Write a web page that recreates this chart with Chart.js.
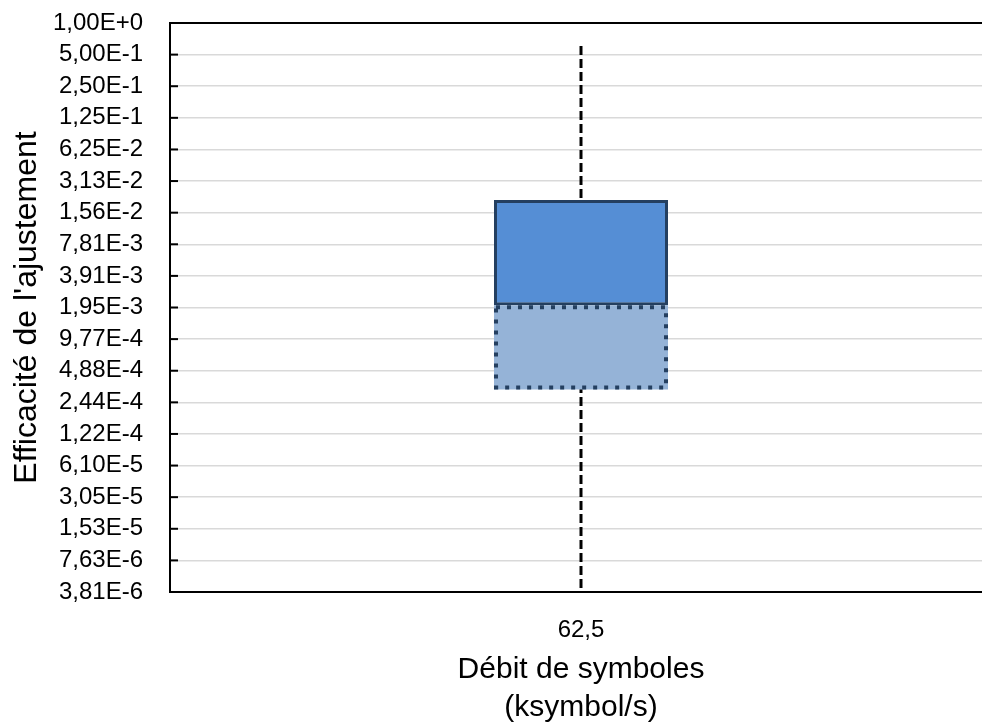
<!DOCTYPE html>
<html lang="fr">
<head>
<meta charset="utf-8">
<title>Efficacité de l'ajustement</title>
<script src="https://cdn.jsdelivr.net/npm/chart.js@4.4.1/dist/chart.umd.min.js"></script>
<style>
    html, body { margin: 0; padding: 0; background: #fff; overflow: hidden; }
    #contenedor { width: 1000px; height: 726px; }
</style>
</head>
<body>
<div id="contenedor"><canvas id="grafico"></canvas></div>
<script>
// Datos (caja y bigotes, eje log base 2)
const categorias = ['62,5'];
const bigoteMin = [4.17e-6];
const q1 = [3.24e-4];
const mediana = [2.05e-3];
const q3 = [2.06e-2];
const bigoteMax = [0.66];
const exponentesTicks = [0, -1, -2, -3, -4, -5, -6, -7, -8, -9, -10, -11, -12, -13, -14, -15, -16, -17, -18];

const AZUL_OSCURO = '#243F60';
const FUENTE = "'Liberation Sans', Arial, sans-serif";

Chart.defaults.font.family = FUENTE;
Chart.defaults.color = '#000';

// 0,0078125 -> "7,81E-3"
function formatoExp(v) {
    return v.toExponential(2).replace('.', ',').replace('e', 'E');
}

// Borde punteado de la mitad inferior y marcas interiores del eje Y
const pluginExtras = {
    id: 'extras',
    afterDatasetDraw(chart, args) {
        if (args.index !== 1) return;
        const ctx = chart.ctx;
        args.meta.data.forEach(function(barra) {
            const p = barra.getProps(['x', 'y', 'base', 'width'], true);
            const izq = p.x - p.width / 2;
            const arriba = Math.min(p.y, p.base);
            const alto = Math.abs(p.base - p.y);
            ctx.save();
            ctx.strokeStyle = AZUL_OSCURO;
            ctx.lineWidth = 4;
            ctx.setLineDash([4, 7]);
            ctx.strokeRect(izq + 2, arriba + 2, p.width - 4, alto - 4);
            ctx.restore();
        });
    },
    afterDraw(chart) {
        const ejeY = chart.scales.y;
        const ctx = chart.ctx;
        const izq = chart.chartArea.left;
        ctx.save();
        ctx.strokeStyle = '#000';
        ctx.lineWidth = 2;
        ejeY.ticks.forEach(function(t) {
            const py = ejeY.getPixelForValue(t.value);
            ctx.beginPath();
            ctx.moveTo(izq, py);
            ctx.lineTo(izq + 8, py);
            ctx.stroke();
        });
        ctx.restore();
    }
};

const ctx = document.getElementById('grafico').getContext('2d');

new Chart(ctx, {
    type: 'bar',
    data: {
        labels: categorias,
        datasets: [
            {
                // bigote (línea discontinua vertical)
                type: 'line',
                data: [
                    { x: categorias[0], y: bigoteMin[0] },
                    { x: categorias[0], y: bigoteMax[0] }
                ],
                borderColor: '#000',
                borderWidth: 3,
                borderDash: [9, 4],
                pointRadius: 0,
                fill: false,
                order: 3
            },
            {
                // mitad inferior: q1 -> mediana
                data: categorias.map((c, i) => [q1[i], mediana[i]]),
                backgroundColor: '#95B3D7',
                borderWidth: 0,
                order: 2
            },
            {
                // mitad superior: mediana -> q3
                data: categorias.map((c, i) => [mediana[i], q3[i]]),
                backgroundColor: '#558ED5',
                borderColor: AZUL_OSCURO,
                borderWidth: 3,
                borderSkipped: false,
                order: 1
            }
        ]
    },
    options: {
        responsive: true,
        maintainAspectRatio: false,
        animation: false,
        grouped: false,
        barPercentage: 0.2117,
        categoryPercentage: 1,
        layout: { padding: { top: 23, right: 8, bottom: 0, left: 0 } },
        plugins: {
            legend: { display: false },
            tooltip: { enabled: false }
        },
        scales: {
            x: {
                grid: { display: false, drawTicks: false },
                border: { display: true, color: '#000', width: 2 },
                ticks: { font: { size: 24 }, padding: 24 },
                title: {
                    display: true,
                    text: ['Débit de symboles', '(ksymbol/s)'],
                    font: { size: 30, lineHeight: 1.25 },
                    padding: { top: 0, bottom: 0 }
                },
                afterFit(escala) { escala.height = 134; }
            },
            y: {
                type: 'logarithmic',
                min: Math.pow(2, -18),
                max: 1,
                afterBuildTicks(escala) {
                    escala.ticks = exponentesTicks.map(e => ({ value: Math.pow(2, e) }));
                },
                ticks: {
                    autoSkip: false,
                    font: { size: 24 },
                    padding: 27,
                    callback: v => formatoExp(v)
                },
                grid: {
                    drawTicks: false,
                    color: c => (c.tick && c.tick.value === 1) ? '#000' : '#D9D9D9',
                    lineWidth: c => (c.tick && c.tick.value === 1) ? 2 : 1.5
                },
                border: { color: '#000', width: 2 },
                title: {
                    display: true,
                    text: "Efficacité de l'ajustement",
                    font: { size: 32 },
                    padding: { top: 8, bottom: 0 }
                },
                afterFit(escala) {
                    escala.width = 170;
                    // sin margen extra por las etiquetas extremas
                    escala.paddingTop = 0;
                    escala.paddingBottom = 0;
                }
            }
        }
    },
    plugins: [pluginExtras]
});
</script>
</body>
</html>
